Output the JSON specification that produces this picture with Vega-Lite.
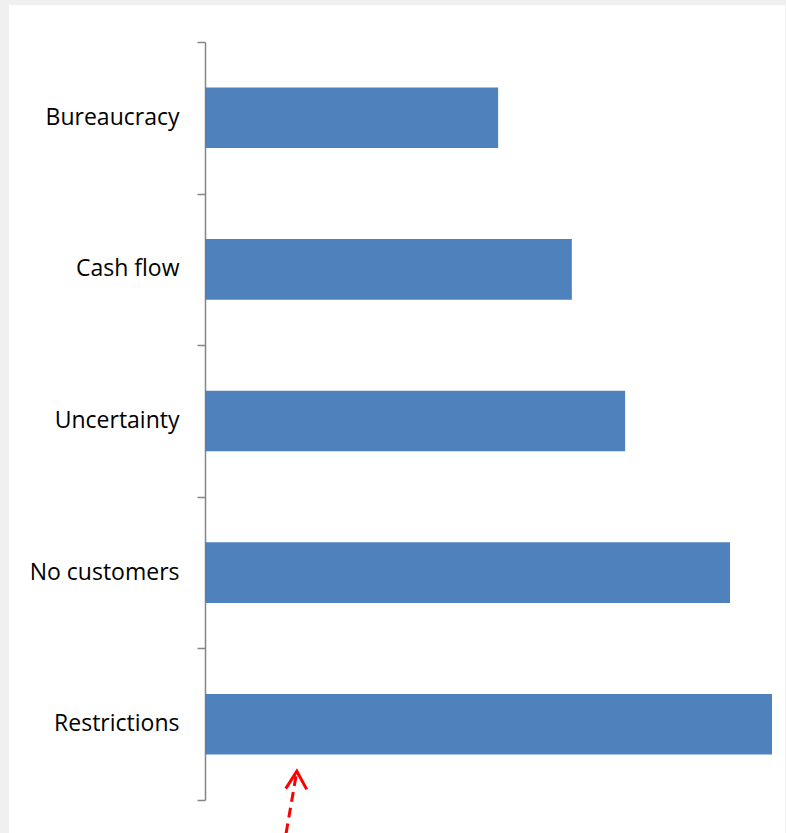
{
  "$schema": "https://vega.github.io/schema/vega-lite/v6.json",
  "width": 776,
  "height": 828,
  "autosize": {"type": "none"},
  "padding": {"left": 9, "top": 5, "right": 1, "bottom": 0},
  "background": "#f0f0f0",
  "config": {
    "view": {"fill": "white", "stroke": null},
    "font": "Open Sans"
  },
  "datasets": {
    "barriers": [
      {"barrier": "Bureaucracy", "share": 51.7},
      {"barrier": "Cash flow", "share": 64.7},
      {"barrier": "Uncertainty", "share": 74.1},
      {"barrier": "No customers", "share": 92.6},
      {"barrier": "Restrictions", "share": 100}
    ],
    "pointer": [
      {"fromX": 14.3, "fromY": 5.22, "toX": 16.2, "toY": 4.81}
    ]
  },
  "layer": [
    {
      "data": {"name": "barriers"},
      "mark": {"type": "bar", "color": "#4f81bd"},
      "encoding": {
        "y": {
          "field": "barrier",
          "type": "nominal",
          "sort": null,
          "scale": {"range": [37, 795], "paddingInner": 0.6, "paddingOuter": 0.3},
          "axis": {
            "orient": "left",
            "offset": -196,
            "title": null,
            "domain": false,
            "ticks": false,
            "tickSize": 0,
            "labelPadding": 26,
            "labelFont": "Open Sans",
            "labelFontSize": 23,
            "labelColor": "#000000",
            "labelLimit": 0
          }
        },
        "x": {
          "field": "share",
          "type": "quantitative",
          "scale": {"domain": [0, 100], "range": [196, 763], "nice": false},
          "axis": null
        }
      }
    },
    {
      "data": {"name": "pointer"},
      "encoding": {
        "y": {
          "field": "fromY",
          "type": "quantitative",
          "scale": {"domain": [0, 5], "range": [37, 795], "nice": false, "zero": false},
          "axis": {
            "orient": "left",
            "offset": -196,
            "title": null,
            "values": [0, 1, 2, 3, 4, 5],
            "labels": false,
            "grid": false,
            "domain": true,
            "domainColor": "#868686",
            "domainWidth": 1.5,
            "ticks": true,
            "tickColor": "#868686",
            "tickWidth": 1.5,
            "tickSize": 8
          }
        }
      },
      "layer": [
        {
          "mark": {"type": "rule", "color": "#ff0000", "strokeWidth": 3, "strokeDash": [10, 6]},
          "encoding": {
            "x": {"field": "fromX", "type": "quantitative"},
            "x2": {"field": "toX"},
            "y2": {"field": "toY"}
          }
        },
        {
          "mark": {
            "type": "point",
            "shape": "M-1,1.7L0,0L1,1.7",
            "filled": false,
            "stroke": "#ff0000",
            "strokeWidth": 3,
            "size": 440,
            "angle": 2,
            "opacity": 1
          },
          "encoding": {
            "x": {"field": "toX", "type": "quantitative"},
            "y": {"field": "toY", "type": "quantitative"}
          }
        }
      ]
    }
  ],
  "resolve": {"scale": {"y": "independent"}, "axis": {"y": "independent"}}
}
